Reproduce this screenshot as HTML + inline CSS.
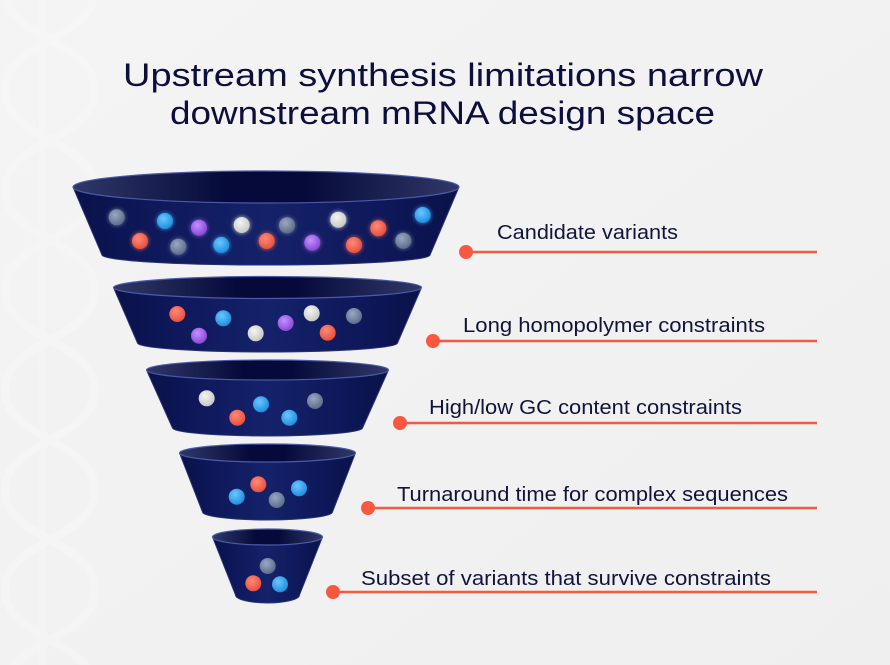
<!DOCTYPE html>
<html>
<head>
<meta charset="utf-8">
<style>
  html,body{margin:0;padding:0;}
  body{width:890px;height:665px;overflow:hidden;background:#f2f2f2;}
  svg{display:block;}
  text{font-family:"Liberation Sans","DejaVu Sans",sans-serif;}
</style>
</head>
<body>
<svg width="890" height="665" viewBox="0 0 890 665" xmlns="http://www.w3.org/2000/svg">
  <defs>
    <linearGradient id="bg" x1="0" y1="0" x2="1" y2="1">
      <stop offset="0" stop-color="#f4f4f4"/>
      <stop offset="1" stop-color="#efefef"/>
    </linearGradient>
    <linearGradient id="body" x1="0" y1="0" x2="1" y2="0">
      <stop offset="0" stop-color="#0a1249"/>
      <stop offset="0.2" stop-color="#0e185a"/>
      <stop offset="0.5" stop-color="#15226a"/>
      <stop offset="0.8" stop-color="#0e185a"/>
      <stop offset="1" stop-color="#0a1249"/>
    </linearGradient>
    <linearGradient id="inner" x1="0" y1="0" x2="1" y2="0">
      <stop offset="0" stop-color="#303868"/>
      <stop offset="0.4" stop-color="#050a3a"/>
      <stop offset="0.6" stop-color="#050a3a"/>
      <stop offset="1" stop-color="#303868"/>
    </linearGradient>
    <radialGradient id="bGray" cx="0.4" cy="0.35" r="0.65">
      <stop offset="0" stop-color="#9aa8c0"/>
      <stop offset="1" stop-color="#5e6d8c"/>
    </radialGradient>
    <radialGradient id="bBlue" cx="0.4" cy="0.35" r="0.65">
      <stop offset="0" stop-color="#6cc6ff"/>
      <stop offset="1" stop-color="#1f8ee0"/>
    </radialGradient>
    <radialGradient id="bPurple" cx="0.4" cy="0.35" r="0.65">
      <stop offset="0" stop-color="#c590ff"/>
      <stop offset="1" stop-color="#8a48d8"/>
    </radialGradient>
    <radialGradient id="bWhite" cx="0.4" cy="0.35" r="0.65">
      <stop offset="0" stop-color="#f4f4f2"/>
      <stop offset="1" stop-color="#c8c8c6"/>
    </radialGradient>
    <radialGradient id="bRed" cx="0.4" cy="0.35" r="0.65">
      <stop offset="0" stop-color="#ff8a78"/>
      <stop offset="1" stop-color="#e8503e"/>
    </radialGradient>
    <filter id="glow" x="-50%" y="-50%" width="200%" height="200%">
      <feGaussianBlur stdDeviation="1.8"/>
    </filter>
  </defs>

  <rect width="890" height="665" fill="url(#bg)"/>

  <!-- faint background pattern -->
  <g fill="none" stroke="#f8f8f8" stroke-width="8" opacity="0.55">
    <path d="M5,-10 C5,40 95,40 95,90 C95,140 5,140 5,190 C5,240 95,240 95,290 C95,340 5,340 5,390 C5,440 95,440 95,490 C95,540 5,540 5,590 C5,640 95,640 95,690"/>
    <path d="M95,-10 C95,40 5,40 5,90 C5,140 95,140 95,190 C95,240 5,240 5,290 C5,340 95,340 95,390 C95,440 5,440 5,490 C5,540 95,540 95,590 C95,640 5,640 5,690"/>
    <path d="M42,0 V665" stroke-width="6" opacity="0.6"/>
  </g>

  <!-- Title -->
  <text x="123" y="86" font-size="32" fill="#0c0f3c" textLength="640" lengthAdjust="spacingAndGlyphs">Upstream synthesis limitations narrow</text>
  <text x="170" y="124" font-size="32" fill="#0c0f3c" textLength="545" lengthAdjust="spacingAndGlyphs">downstream mRNA design space</text>

  <!-- Bowl 1 -->
  <path d="M73,187 L102,255 A164,10 0 0 0 430,255 L459,187 A193,16 0 0 1 73,187 Z" fill="url(#body)" stroke="#26327a" stroke-width="1"/>
  <ellipse cx="266" cy="187" rx="193" ry="16" fill="url(#inner)" stroke="#4a5aa8" stroke-width="1.2"/>
  <!-- Bowl 2 -->
  <path d="M113.5,287.5 L137.5,343 A130,9 0 0 0 397.5,343 L421.5,287.5 A154,11 0 0 1 113.5,287.5 Z" fill="url(#body)" stroke="#26327a" stroke-width="1"/>
  <ellipse cx="267.5" cy="287.5" rx="154" ry="11" fill="url(#inner)" stroke="#4a5aa8" stroke-width="1.2"/>
  <!-- Bowl 3 -->
  <path d="M146.5,370 L172.5,428 A95,8 0 0 0 362.5,428 L388.5,370 A121,10 0 0 1 146.5,370 Z" fill="url(#body)" stroke="#26327a" stroke-width="1"/>
  <ellipse cx="267.5" cy="370" rx="121" ry="10" fill="url(#inner)" stroke="#4a5aa8" stroke-width="1.2"/>
  <!-- Bowl 4 -->
  <path d="M179.5,453 L202.5,512 A65,8 0 0 0 332.5,512 L355.5,453 A88,9 0 0 1 179.5,453 Z" fill="url(#body)" stroke="#26327a" stroke-width="1"/>
  <ellipse cx="267.5" cy="453" rx="88" ry="9" fill="url(#inner)" stroke="#4a5aa8" stroke-width="1.2"/>
  <!-- Bowl 5 -->
  <path d="M212.5,537 L235.5,595 A32,8 0 0 0 299.5,595 L322.5,537 A55,8 0 0 1 212.5,537 Z" fill="url(#body)" stroke="#26327a" stroke-width="1"/>
  <ellipse cx="267.5" cy="537" rx="55" ry="8" fill="url(#inner)" stroke="#4a5aa8" stroke-width="1.2"/>

  <!-- Balls: glow layer -->
  <g filter="url(#glow)" opacity="0.55">
    <circle cx="116.7" cy="217.3" r="9" fill="#7a8aa8"/>
    <circle cx="165" cy="221" r="9" fill="#3aaaf0"/>
    <circle cx="140" cy="241" r="9" fill="#f06a5a"/>
    <circle cx="178.3" cy="246.7" r="9" fill="#7a8aa8"/>
    <circle cx="199" cy="227.7" r="9" fill="#a060e0"/>
    <circle cx="221.3" cy="245" r="9" fill="#3aaaf0"/>
    <circle cx="241.7" cy="225" r="9" fill="#e0e0e0"/>
    <circle cx="266.7" cy="241" r="9" fill="#f06a5a"/>
    <circle cx="287" cy="225.3" r="9" fill="#7a8aa8"/>
    <circle cx="312.3" cy="242.7" r="9" fill="#a060e0"/>
    <circle cx="338.3" cy="219.7" r="9" fill="#e0e0e0"/>
    <circle cx="354" cy="245" r="9" fill="#f06a5a"/>
    <circle cx="378.3" cy="228.3" r="9" fill="#f06a5a"/>
    <circle cx="403.3" cy="240.7" r="9" fill="#7a8aa8"/>
    <circle cx="422.7" cy="215" r="9" fill="#3aaaf0"/>
  </g>
  <g>
    <!-- bowl 1 -->
    <circle cx="116.7" cy="217.3" r="8" fill="url(#bGray)"/>
    <circle cx="165" cy="221" r="8" fill="url(#bBlue)"/>
    <circle cx="140" cy="241" r="8" fill="url(#bRed)"/>
    <circle cx="178.3" cy="246.7" r="8" fill="url(#bGray)"/>
    <circle cx="199" cy="227.7" r="8" fill="url(#bPurple)"/>
    <circle cx="221.3" cy="245" r="8" fill="url(#bBlue)"/>
    <circle cx="241.7" cy="225" r="8" fill="url(#bWhite)"/>
    <circle cx="266.7" cy="241" r="8" fill="url(#bRed)"/>
    <circle cx="287" cy="225.3" r="8" fill="url(#bGray)"/>
    <circle cx="312.3" cy="242.7" r="8" fill="url(#bPurple)"/>
    <circle cx="338.3" cy="219.7" r="8" fill="url(#bWhite)"/>
    <circle cx="354" cy="245" r="8" fill="url(#bRed)"/>
    <circle cx="378.3" cy="228.3" r="8" fill="url(#bRed)"/>
    <circle cx="403.3" cy="240.7" r="8" fill="url(#bGray)"/>
    <circle cx="422.7" cy="215" r="8" fill="url(#bBlue)"/>
    <!-- bowl 2 -->
    <circle cx="177.3" cy="314" r="8" fill="url(#bRed)"/>
    <circle cx="199" cy="335.7" r="8" fill="url(#bPurple)"/>
    <circle cx="223.3" cy="318.3" r="8" fill="url(#bBlue)"/>
    <circle cx="255.7" cy="333.3" r="8" fill="url(#bWhite)"/>
    <circle cx="285.7" cy="323" r="8" fill="url(#bPurple)"/>
    <circle cx="311.7" cy="313.3" r="8" fill="url(#bWhite)"/>
    <circle cx="327.7" cy="332.7" r="8" fill="url(#bRed)"/>
    <circle cx="354" cy="316" r="8" fill="url(#bGray)"/>
    <!-- bowl 3 -->
    <circle cx="206.7" cy="398.3" r="8" fill="url(#bWhite)"/>
    <circle cx="237.3" cy="417.7" r="8" fill="url(#bRed)"/>
    <circle cx="261" cy="404.3" r="8" fill="url(#bBlue)"/>
    <circle cx="289.3" cy="417.7" r="8" fill="url(#bBlue)"/>
    <circle cx="315" cy="401" r="8" fill="url(#bGray)"/>
    <!-- bowl 4 -->
    <circle cx="236.7" cy="496.7" r="8" fill="url(#bBlue)"/>
    <circle cx="258.3" cy="484.3" r="8" fill="url(#bRed)"/>
    <circle cx="276.7" cy="500" r="8" fill="url(#bGray)"/>
    <circle cx="299" cy="488.3" r="8" fill="url(#bBlue)"/>
    <!-- bowl 5 -->
    <circle cx="267.7" cy="566" r="8" fill="url(#bGray)"/>
    <circle cx="253.3" cy="583.3" r="8" fill="url(#bRed)"/>
    <circle cx="280" cy="584.3" r="8" fill="url(#bBlue)"/>
  </g>

  <!-- Connectors -->
  <g stroke="#fa5741" stroke-width="2.5" fill="#fa5741">
    <line x1="466" y1="252" x2="817" y2="252"/>
    <circle cx="466" cy="252" r="7" stroke="none"/>
    <line x1="433" y1="341" x2="817" y2="341"/>
    <circle cx="433" cy="341" r="7" stroke="none"/>
    <line x1="400" y1="423" x2="817" y2="423"/>
    <circle cx="400" cy="423" r="7" stroke="none"/>
    <line x1="368" y1="508" x2="817" y2="508"/>
    <circle cx="368" cy="508" r="7" stroke="none"/>
    <line x1="333" y1="592" x2="817" y2="592"/>
    <circle cx="333" cy="592" r="7" stroke="none"/>
  </g>

  <!-- Labels -->
  <g font-size="20" fill="#10143c">
    <text x="497" y="239" textLength="181" lengthAdjust="spacingAndGlyphs">Candidate variants</text>
    <text x="463" y="332" textLength="302" lengthAdjust="spacingAndGlyphs">Long homopolymer constraints</text>
    <text x="429" y="414" textLength="313" lengthAdjust="spacingAndGlyphs">High/low GC content constraints</text>
    <text x="397" y="501" textLength="391" lengthAdjust="spacingAndGlyphs">Turnaround time for complex sequences</text>
    <text x="361" y="585" textLength="410" lengthAdjust="spacingAndGlyphs">Subset of variants that survive constraints</text>
  </g>
</svg>
</body>
</html>
